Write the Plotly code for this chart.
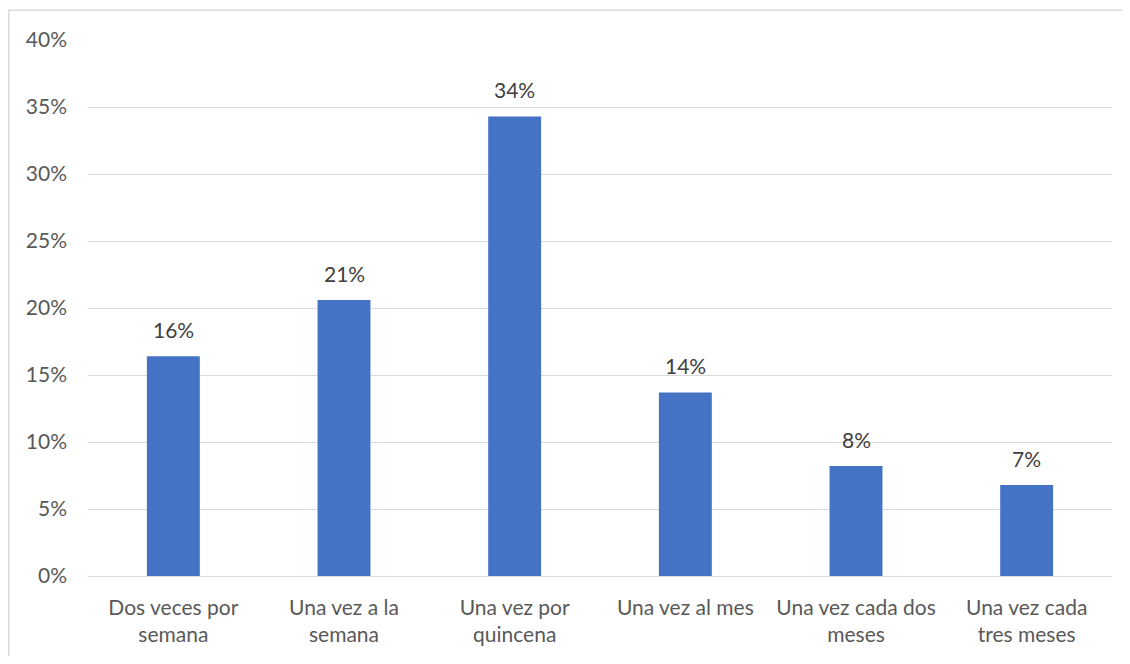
import plotly.graph_objects as go

categories = ["Dos veces por<br>semana", "Una vez a la<br>semana", "Una vez por<br>quincena",
              "Una vez al mes", "Una vez cada dos<br>meses", "Una vez cada<br>tres meses"]
values = [0.164, 0.206, 0.343, 0.137, 0.082, 0.068]
labels = ["16%", "21%", "34%", "14%", "8%", "7%"]
tick_vals = [0, 0.05, 0.10, 0.15, 0.20, 0.25, 0.30, 0.35, 0.40]

FONT = "Lato"
GREY = "#595959"
FS = 21

fig = go.Figure(go.Bar(
    x=categories, y=values,
    marker=dict(color="#4472C4", line=dict(width=0)),
    width=0.31,
))

for c, v, t in zip(categories, values, labels):
    fig.add_annotation(x=c, y=v, text=t, showarrow=False, yanchor="bottom",
                       yshift=12, font=dict(family=FONT, size=FS, color="#404040"))

fig.update_layout(
    width=1114, height=648,
    margin=dict(l=80, r=10, t=32, b=76),
    paper_bgcolor="white", plot_bgcolor="white",
    font=dict(family=FONT, size=FS, color=GREY),
    showlegend=False,
    xaxis=dict(showgrid=False, showline=False, ticks="", tickfont=dict(size=FS, color=GREY),
               ticklabelstandoff=17),
    yaxis=dict(range=[0, 0.40], tickvals=tick_vals, tickformat=".0%",
               showgrid=True, gridcolor="#D9D9D9", gridwidth=1.3,
               zeroline=True, zerolinecolor="#D9D9D9", zerolinewidth=1.3,
               showline=False, ticks="", ticklabelstandoff=20,
               tickfont=dict(size=FS, color=GREY)),
    shapes=[
        dict(type="line", xref="paper", yref="paper", x0=-80 / 1024, x1=1.1,
             y0=(572 - 2) / 540, y1=(572 - 2) / 540, line=dict(color="#D9D9D9", width=1.5)),
        dict(type="line", xref="paper", yref="paper", x0=(-80 + 0.8) / 1024, x1=(-80 + 0.8) / 1024,
             y0=(572 - 2) / 540, y1=-0.3, line=dict(color="#D9D9D9", width=1.5)),
    ],
)

fig.write_html("out.html")
